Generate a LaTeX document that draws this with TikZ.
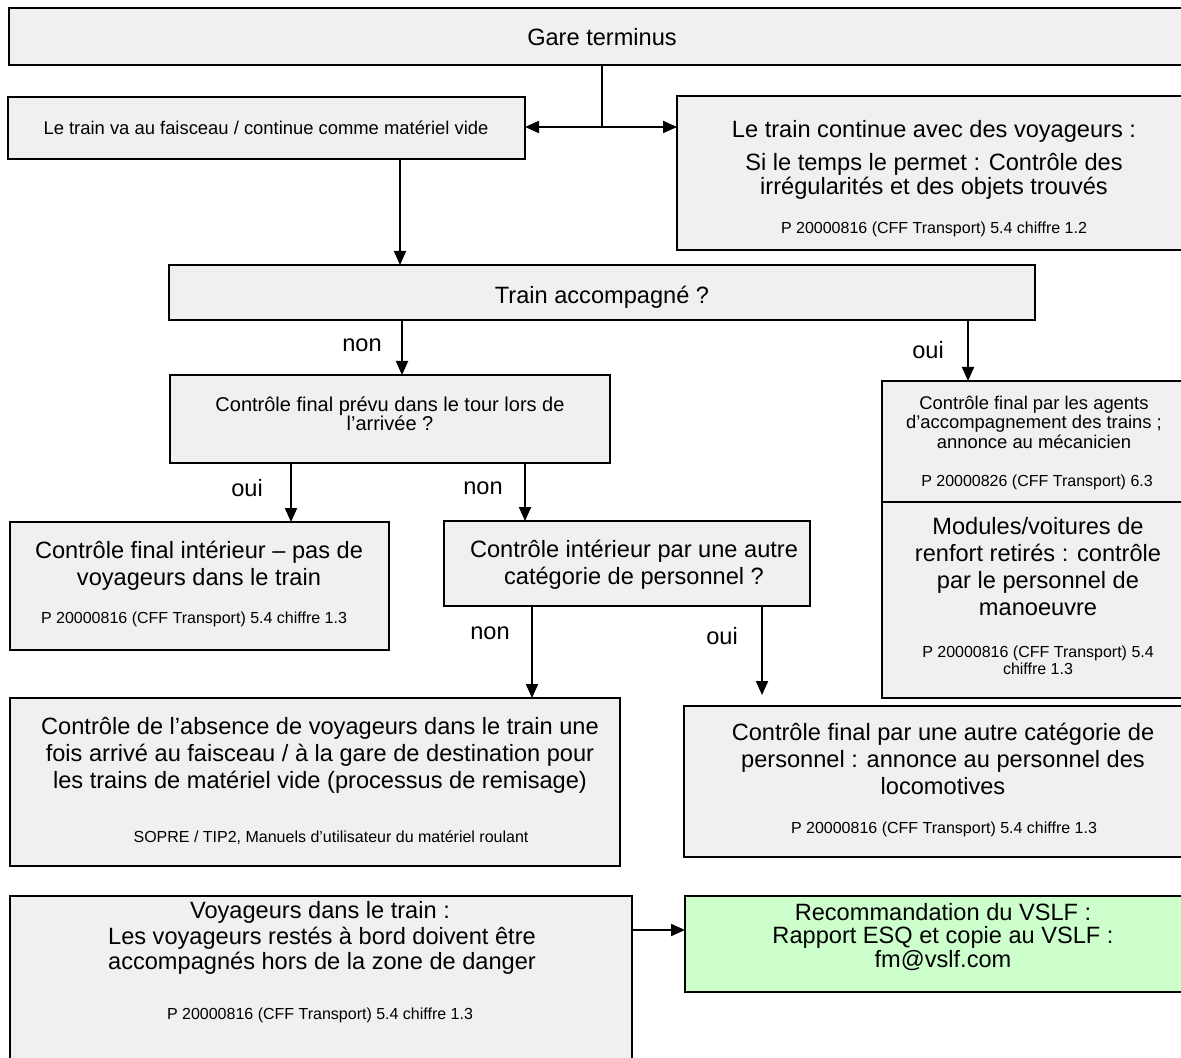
\documentclass[tikz,border=0pt]{standalone}
\usepackage{fontspec}
\setmainfont{Liberation Sans}
\usetikzlibrary{arrows.meta}
\definecolor{boxgray}{HTML}{F0F0F0}
\definecolor{vslfgreen}{HTML}{CCFFCC}
\newcommand\fbig{\fontsize{11.8}{13.5}\selectfont}
\newcommand\ftight{\fontsize{11.8}{12.3}\selectfont}
\newcommand\fmid{\fontsize{10}{9.5}\selectfont}
\newcommand\fsmall{\fontsize{9.2}{9.8}\selectfont}
\newcommand\fref{\fontsize{8}{8.6}\selectfont}

\begin{document}
\begin{tikzpicture}[x=0.5pt, y=-0.5pt,
		box/.style={draw=black, line width=1pt, fill=boxgray, inner sep=0pt, outer sep=0pt},
		txt/.style={align=center, inner sep=0pt, font=\fbig},
		ref/.style={align=center, inner sep=0pt, font=\fref},
		link/.style={line width=1pt, -{Triangle[length=7pt,width=6pt]}}]
			%%%%% START %%%%%
			\useasboundingbox (0,0) rectangle (1181,1058);
			
			% boxes
			\node[box, minimum width=593pt, minimum height=28.5pt] (gare) at (602,36.5) {};
			\node[box, minimum width=258.5pt, minimum height=31pt] (faisceau) at (266.5,128) {};
			\node[box, minimum width=257pt, minimum height=77pt] (voyageurs) at (934,173) {};
			\node[box, minimum width=433pt, minimum height=27.5pt] (accomp) at (602,292.5) {};
			\node[box, minimum width=220pt, minimum height=44pt] (prevu) at (390,419) {};
			\node[box, minimum width=156pt, minimum height=60.5pt] (agents) at (1038,441.5) {};
			\node[box, minimum width=156pt, minimum height=98pt] (renfort) at (1038,600) {};
			\node[box, minimum width=189.5pt, minimum height=64pt] (interieur) at (199.5,586) {};
			\node[box, minimum width=183pt, minimum height=42.5pt] (autrecat) at (627,563.5) {};
			\node[box, minimum width=305pt, minimum height=84pt] (absence) at (315,782) {};
			\node[box, minimum width=259pt, minimum height=75.5pt] (autrefinal) at (943,781.5) {};
			\node[box, minimum width=311pt, minimum height=92pt] (danger) at (321,988) {};
			\node[box, fill=vslfgreen, minimum width=258pt, minimum height=48pt] (vslf) at (943,944) {};
			
			% texts
			\node[txt] (tgare) at (602,37) {Gare terminus};
			\node[txt, font=\fsmall] (tfaisceau) at (266,128) {Le train va au faisceau / continue comme matériel vide};
			\node[txt] (tvoy) at (934,131) {Le train continue avec des voyageurs :};
			\node[txt, font=\ftight] (tvoyb) at (934,176.5) {Si le temps le permet : Contrôle des\\ irrégularités et des objets trouvés};
			\node[ref] (rvoy) at (934,229) {P 20000816 (CFF Transport) 5.4 chiffre 1.2};
			\node[txt] (taccomp) at (602,297) {Train accompagné ?};
			\node[txt, font=\fmid] (tprevu) at (390,414) {Contrôle final prévu dans le tour lors de\\ l’arrivée ?};
			\node[txt, font=\fsmall] (tagents) at (1034,422) {Contrôle final par les agents\\ d’accompagnement des trains ;\\ annonce au mécanicien};
			\node[ref] (ragents) at (1037,482) {P 20000826 (CFF Transport) 6.3};
			\node[txt] (trenfort) at (1038,567) {Modules/voitures de\\ renfort retirés : contrôle\\ par le personnel de\\ manoeuvre};
			\node[ref] (rrenfort) at (1038,660) {P 20000816 (CFF Transport) 5.4\\ chiffre 1.3};
			\node[txt] (tinterieur) at (199,565.5) {Contrôle final intérieur – pas de\\ voyageurs dans le train};
			\node[ref] (rinterieur) at (194,619) {P 20000816 (CFF Transport) 5.4 chiffre 1.3};
			\node[txt] (tautrecat) at (634,565) {Contrôle intérieur par une autre\\ catégorie de personnel ?};
			\node[txt] (tabsence) at (320,755) {Contrôle de l’absence de voyageurs dans le train une\\ fois arrivé au faisceau / à la gare de destination pour\\ les trains de matériel vide (processus de remisage)};
			\node[ref] (rabsence) at (331,838) {SOPRE / TIP2, Manuels d’utilisateur du matériel roulant};
			\node[txt] (tautrefinal) at (943,758.5) {Contrôle final par une autre catégorie de\\ personnel : annonce au personnel des\\ locomotives};
			\node[ref] (rautrefinal) at (944,829) {P 20000816 (CFF Transport) 5.4 chiffre 1.3};
			\node[txt] (tdanger) at (320,912) {Voyageurs dans le train :};
			\node[txt, font=\ftight] (tdangerb) at (322,951) {Les voyageurs restés à bord doivent être\\ accompagnés hors de la zone de danger};
			\node[ref] (rdanger) at (320,1015) {P 20000816 (CFF Transport) 5.4 chiffre 1.3};
			\node[txt] (tvslf) at (943,912) {Recommandation du VSLF :};
			\node[txt, font=\fontsize{11.8}{10.5}\selectfont] (tvslfb) at (943,949) {Rapport ESQ et copie au VSLF :\\ fm@vslf.com};
			
			% connectors
			\coordinate (split) at (602,127);
			\draw[line width=1pt] (gare.south) -- (split);
			\draw[link] (split) -- (split -| faisceau.east);
			\draw[link] (split) -- (split -| voyageurs.west);
			\draw[link] (400,0 |- faisceau.south) -- (400,0 |- accomp.north);
			\draw[link] (402,0 |- accomp.south) -- (402,0 |- prevu.north);
			\draw[link] (968,0 |- accomp.south) -- (968,0 |- agents.north);
			\draw[link] (291,0 |- prevu.south) -- (291,0 |- interieur.north);
			\draw[link] (525,0 |- prevu.south) -- (525,0 |- autrecat.north);
			\draw[link] (532,0 |- autrecat.south) -- (532,0 |- absence.north);
			\draw[link, shorten >=5.5pt] (762,0 |- autrecat.south) -- (762,0 |- autrefinal.north);
			\draw[link] (danger.east |- 0,930) -- (vslf.west |- 0,930);
			
			% labels
			\node[txt] (non1) at (362,345) {non};
			\node[txt] (oui1) at (928,350) {oui};
			\node[txt] (oui2) at (247,488) {oui};
			\node[txt] (non2) at (483,488) {non};
			\node[txt] (non3) at (490,633) {non};
			\node[txt] (oui3) at (722,636) {oui};
			%%%%% END %%%%%
		\end{tikzpicture}
\end{document}
